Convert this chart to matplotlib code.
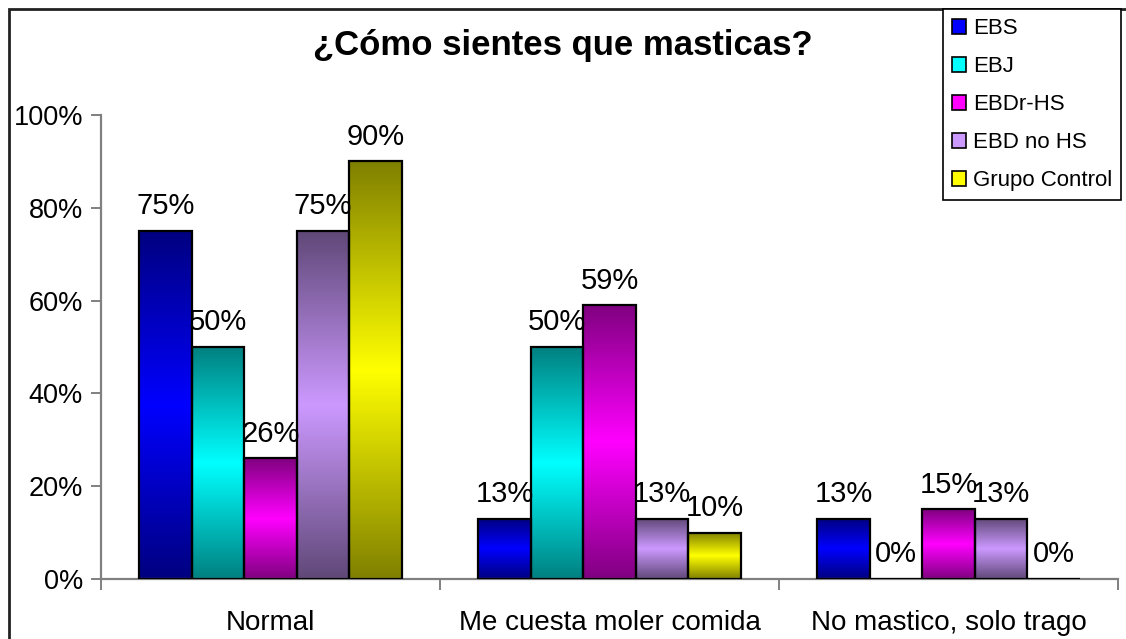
import numpy as np
import matplotlib
matplotlib.use("Agg")
import matplotlib.pyplot as plt
from matplotlib.patches import Patch, Rectangle
from matplotlib.colors import to_rgb

plt.rcParams['font.family'] = ['Liberation Sans', 'DejaVu Sans']

title = "¿Cómo sientes que masticas?"
categories = ["Normal", "Me cuesta moler comida", "No mastico, solo trago"]
series = ["EBS", "EBJ", "EBDr-HS", "EBD no HS", "Grupo Control"]
values = {
    "EBS":           [75, 13, 13],
    "EBJ":           [50, 50, 0],
    "EBDr-HS":       [26, 59, 15],
    "EBD no HS":     [75, 13, 13],
    "Grupo Control": [90, 10, 0],
}
y_ticks = [0, 20, 40, 60, 80, 100]

bright = {
    "EBS": "#0000FF",
    "EBJ": "#00FFFF",
    "EBDr-HS": "#FF00FF",
    "EBD no HS": "#CC99FF",
    "Grupo Control": "#FFFF00",
}
dark = {
    "EBS": "#000080",
    "EBJ": "#008080",
    "EBDr-HS": "#800080",
    "EBD no HS": "#604878",
    "Grupo Control": "#808000",
}

fig = plt.figure(figsize=(11.26, 6.39), dpi=100)
ax = fig.add_axes([101 / 1126, 1 - 579 / 639, (1118 - 101) / 1126, (579 - 115) / 639])

x = np.arange(len(categories))
bw = 0.155
n = len(series)

# vertical shading: dark at the ends, full colour in the middle
t = np.linspace(0, 1, 256)
mix = 1 - np.abs(2 * t - 1)

for j, name in enumerate(series):
    offs = (j - (n - 1) / 2) * bw
    bars = ax.bar(x + offs, values[name], width=bw, facecolor="none",
                  edgecolor="black", linewidth=1.6, zorder=3)
    c0 = np.array(to_rgb(dark[name]))
    c1 = np.array(to_rgb(bright[name]))
    grad = (c0[None, :] * (1 - mix[:, None]) + c1[None, :] * mix[:, None])[:, None, :]
    for b, v in zip(bars, values[name]):
        bx, bwid = b.get_x(), b.get_width()
        if v > 0:
            im = ax.imshow(grad, extent=[bx, bx + bwid, 0, v], origin="lower",
                           aspect="auto", zorder=2, interpolation="bilinear")
            im.set_clip_path(b)
        ax.annotate(f"{v}%", (bx + bwid / 2, v), xytext=(0, 12),
                    textcoords="offset points", ha="center", va="baseline",
                    fontsize=21, zorder=4)

ax.set_xlim(-0.5, len(categories) - 0.5)
ax.set_ylim(0, 100)
ax.set_yticks(y_ticks)
ax.set_yticklabels([f"{v}%" for v in y_ticks], fontsize=19.5)
ax.tick_params(axis="y", length=7, width=1.4, color="#808080", pad=6)

ax.set_xticks(x)
ax.set_xticklabels(categories, fontsize=20)
ax.tick_params(axis="x", which="major", length=0, pad=22)
ax.set_xticks(np.arange(len(categories) + 1) - 0.5, minor=True)
ax.tick_params(axis="x", which="minor", length=8, width=1.4, color="#808080",
               direction="out")

for s in ["top", "right"]:
    ax.spines[s].set_visible(False)
for s in ["left", "bottom"]:
    ax.spines[s].set_color("#808080")
    ax.spines[s].set_linewidth(1.6)

fig.text(0.5, 1 - 46 / 639, title, ha="center", va="center",
         fontsize=25, fontweight="bold")

handles = [Patch(facecolor=bright[s], edgecolor="black", linewidth=1.2) for s in series]
leg = fig.legend(handles, series, loc="upper right",
                 bbox_to_anchor=(1121 / 1126, 1 - 9 / 639),
                 bbox_transform=fig.transFigure, fontsize=16,
                 frameon=True, fancybox=False, edgecolor="black",
                 framealpha=1, handlelength=0.65, handleheight=0.65,
                 handletextpad=0.3, labelspacing=0.77, borderpad=0.4,
                 borderaxespad=0)
leg.get_frame().set_linewidth(1.2)

# chart area frame (only the left and top edges fall inside the canvas)
fig.add_artist(Rectangle((9 / 1126, -0.1), 1.2, 1 - 9 / 639 + 0.1,
                         transform=fig.transFigure, fill=False,
                         edgecolor="#222222", linewidth=2, zorder=0))

fig.savefig("out.png", dpi=100)
